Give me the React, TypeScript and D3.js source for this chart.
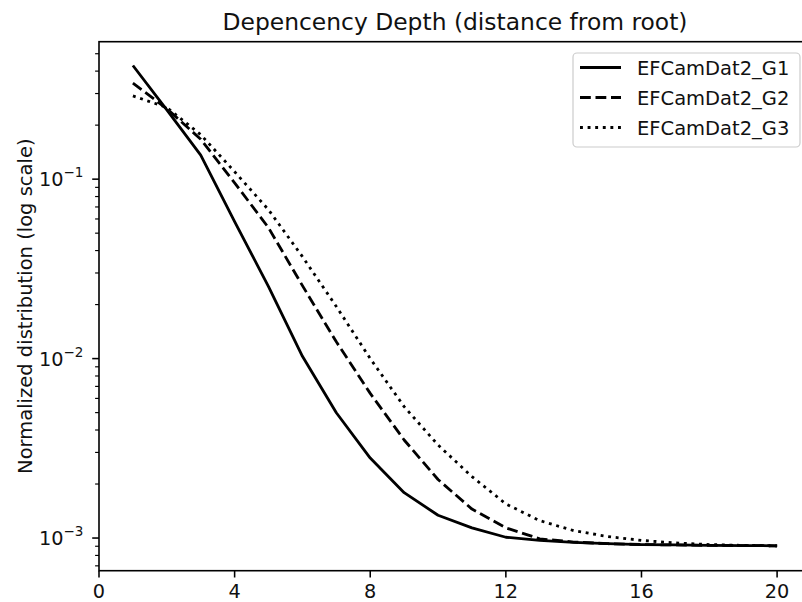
import React from "react";
import * as d3 from "d3";

const depth = [1, 2, 3, 4, 5, 6, 7, 8, 9, 10, 11, 12, 13, 14, 15, 16, 17, 18, 19, 20];
const g1 = [0.43, 0.243, 0.136, 0.058, 0.0252, 0.0103, 0.00499, 0.00279, 0.00179, 0.00134, 0.00114, 0.00101, 0.00097, 0.000946, 0.00093, 0.00092, 0.000915, 0.00091, 0.000908, 0.000905];
const g2 = [0.343, 0.247, 0.167, 0.0954, 0.0536, 0.0255, 0.0124, 0.0064, 0.00352, 0.00212, 0.00145, 0.00114, 0.00099, 0.00095, 0.00093, 0.00092, 0.000915, 0.00091, 0.000908, 0.000905];
const g3 = [0.291, 0.251, 0.177, 0.11, 0.0675, 0.037, 0.0195, 0.01, 0.0054, 0.0033, 0.0022, 0.00155, 0.00125, 0.0011, 0.00102, 0.00097, 0.00094, 0.00092, 0.00091, 0.000905];
const seriesNames = ["EFCamDat2_G1", "EFCamDat2_G2", "EFCamDat2_G3"];
const xTicks = [0, 4, 8, 12, 16, 20];
const yMajorExp = [-1, -2, -3];

const W = 802;
const H = 602;
const left = 99;
const right = 811;
const top = 41.7;
const bottom = 570.7;
const FONT = "DejaVu Sans";

const styles = [
  { dash: "none" },
  { dash: "10.8,4.7" },
  { dash: "2.9,4.7" },
];

export default function App() {
  const x = d3.scaleLinear().domain([0, 21]).range([left, right]);
  const y = d3.scaleLog().domain([Math.pow(10, -3.182), Math.pow(10, -0.234)]).range([bottom, top]);
  const line = d3
    .line<number>()
    .x((_, i) => x(depth[i]))
    .y((d) => y(d));
  const all = [g1, g2, g3];

  const [y0, y1] = y.domain();
  const minor: number[] = [];
  for (let e = -4; e <= 0; e++) {
    for (let m = 2; m <= 9; m++) {
      const v = m * Math.pow(10, e);
      if (v >= y0 && v <= y1) minor.push(v);
    }
  }

  const legX = 573;
  const legY = 53;
  const rowY = [67.5, 97.5, 127.5];

  return (
    <svg
      width={W}
      height={H}
      style={{ position: "fixed", left: 0, top: 0, display: "block", background: "#fff" }}
      fontFamily={FONT}
    >
      <defs>
        <clipPath id="plot">
          <rect x={left} y={top} width={right - left} height={bottom - top} />
        </clipPath>
      </defs>
      <rect width={W} height={H} fill="#fff" />
      {/* title */}
      <text x={(left + right) / 2} y={29.5} textAnchor="middle" fontSize={23.4} fill="#111">
        Depencency Depth (distance from root)
      </text>

      {/* lines */}
      <g clipPath="url(#plot)">
        {all.map((s, i) => (
          <path
            key={i}
            d={line(s) || ""}
            fill="none"
            stroke="#000"
            strokeWidth={2.8}
            strokeDasharray={styles[i].dash}
            strokeLinejoin="round"
          />
        ))}
      </g>

      {/* frame */}
      <rect x={left} y={top} width={right - left} height={bottom - top} fill="none" stroke="#000" strokeWidth={1.6} />

      {/* x ticks */}
      {xTicks.map((t) => (
        <g key={t}>
          <line x1={x(t)} x2={x(t)} y1={bottom} y2={bottom + 6.8} stroke="#000" strokeWidth={1.56} />
          <text x={x(t)} y={598} textAnchor="middle" fontSize={19.3} fill="#111">
            {t}
          </text>
        </g>
      ))}

      {/* y minor ticks */}
      {minor.map((v, i) => (
        <line key={i} x1={left - 3.9} x2={left} y1={y(v)} y2={y(v)} stroke="#000" strokeWidth={1.17} />
      ))}
      {/* y major ticks */}
      {yMajorExp.map((e) => {
        const yy = y(Math.pow(10, e));
        return (
          <g key={e}>
            <line x1={left - 6.8} x2={left} y1={yy} y2={yy} stroke="#000" strokeWidth={1.56} />
            <text x={39} y={yy + 7} fontSize={19.3} fill="#111">
              10
              <tspan dy={-9} fontSize={13.5}>
                {"\u2212" + Math.abs(e)}
              </tspan>
            </text>
          </g>
        );
      })}

      {/* y label */}
      <text
        transform={`translate(32,${(top + bottom) / 2}) rotate(-90)`}
        textAnchor="middle"
        fontSize={19.5}
        fill="#111"
      >
        Normalized distribution (log scale)
      </text>

      {/* legend */}
      <rect x={legX} y={legY} width={227} height={94} rx={4} fill="#fff" fillOpacity={0.8} stroke="#ccc" strokeWidth={1.2} />
      {seriesNames.map((n, i) => (
        <g key={n}>
          <line
            x1={580}
            x2={621}
            y1={rowY[i]}
            y2={rowY[i]}
            stroke="#000"
            strokeWidth={2.8}
            strokeDasharray={styles[i].dash}
          />
          <text x={637} y={rowY[i] + 7} fontSize={19.5} fill="#111">
            {n}
          </text>
        </g>
      ))}
    </svg>
  );
}
